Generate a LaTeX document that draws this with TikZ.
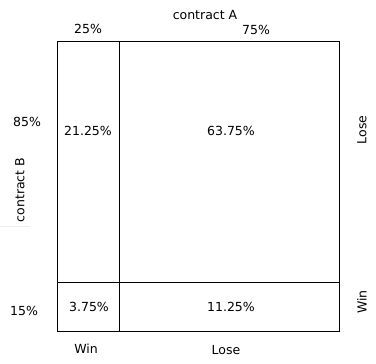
\documentclass[tikz,border=0pt]{standalone}
\usepackage{fontspec}
\setmainfont{DejaVu Sans}
\begin{document}
\begin{tikzpicture}[x=1pt,y=-1pt,line width=1pt,font=\fontsize{12.5}{14}\selectfont,
	lbl/.style={inner sep=0pt,anchor=center},
	side/.style={lbl,rotate=90}]
	\useasboundingbox (0,0) rectangle (376,364);
	% outer square and the two splits
	\draw (57.5,41) rectangle (339.5,331);
	\draw (119,41) -- (119,331);
	\draw (57.5,282) -- (339.5,282);
	\draw[line width=0.4pt,gray!15] (0,226) -- (30,226);
	% headings
	\node[lbl] (contA) at (205,15) {contract A};
	\node[side] (contB) at (20,190) {contract B};
	\node[lbl] (pa1) at (88,29) {25\%};
	\node[lbl] (pa2) at (256,30) {75\%};
	\node[lbl] (pb1) at (27,122) {85\%};
	\node[lbl] (pb2) at (24,311) {15\%};
	% cells
	\node[lbl] (c11) at (88,131) {21.25\%};
	\node[lbl] (c12) at (231,131) {63.75\%};
	\node[lbl] (c21) at (89,307) {3.75\%};
	\node[lbl] (c22) at (231,307) {11.25\%};
	% outcomes
	\node[lbl] (winA) at (86,349) {Win};
	\node[lbl] (loseA) at (226,350) {Lose};
	\node[side] (loseB) at (362,130) {Lose};
	\node[side] (winB) at (362,302) {Win};
\end{tikzpicture}
\end{document}
